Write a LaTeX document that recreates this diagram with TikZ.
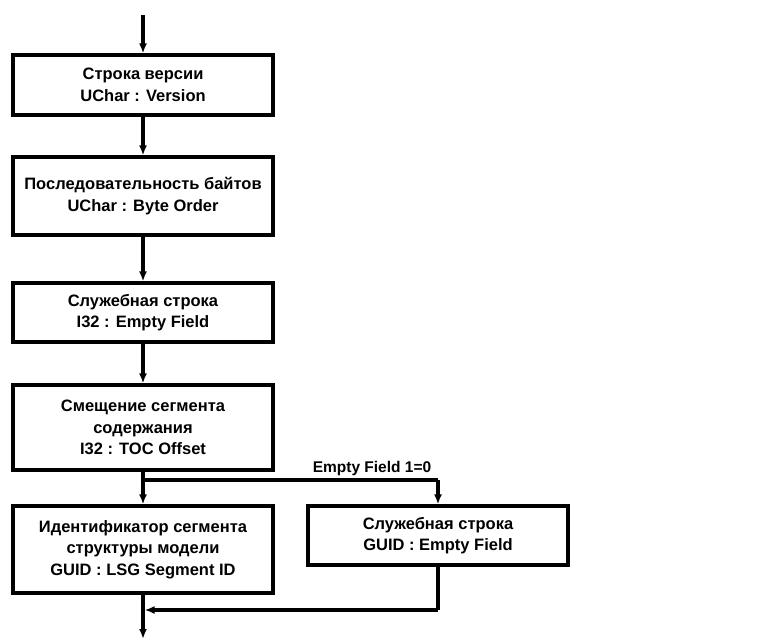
\documentclass[tikz,border=0pt]{standalone}
\usepackage{fontspec}
\setmainfont{Liberation Sans}
\usetikzlibrary{arrows.meta,positioning}
\begin{document}
\begin{tikzpicture}[x=1pt,y=-1pt,
  blk/.style={draw, line width=3.2pt, minimum width=260pt, align=center, inner sep=0pt,
    font=\fontsize{16.5}{21.5}\selectfont\bfseries},
  conn/.style={line width=3.2pt, -{Latex[length=10pt,width=8pt]}},
  plain/.style={line width=3.2pt}]
\useasboundingbox (0,0) rectangle (767,639);
\node[blk, minimum height=60pt] (b1) at (143,85) {Строка версии\\UChar : Version};
\node[blk, minimum height=78pt] (b2) at (143,196) {Последовательность байтов\\UChar : Byte Order};
\node[blk, minimum height=59pt] (b3) at (143,312.5) {Служебная строка\\I32 : Empty Field};
\node[blk, minimum height=85pt] (b4) at (143,427.5) {Смещение сегмента\\содержания\\I32 : TOC Offset};
\node[blk, minimum height=87pt] (b5) at (143,549.5) {Идентификатор сегмента\\структуры модели\\GUID : LSG Segment ID};
\node[blk, minimum height=59pt] (b6) at (438,535.5) {Служебная строка\\GUID : Empty Field};
\coordinate (top) at (143,15);
\coordinate (split) at (143,480);
\coordinate (splitR) at (438,480);
\coordinate (merge) at (143,610);
\coordinate (mergeR) at (438,610);
\coordinate (bot) at (143,639);
\node[font=\fontsize{15.5}{18}\selectfont\bfseries, anchor=base] (lbl) at (372,472) {Empty Field 1=0};
\draw[conn] (top) -- (b1.north);
\draw[conn] (b1.south) -- (b2.north);
\draw[conn] (b2.south) -- (b3.north);
\draw[conn] (b3.south) -- (b4.north);
\draw[conn] (b4.south) -- (b5.north);
\draw[plain] (split) -- (splitR);
\draw[conn] (splitR) -- (b6.north);
\draw[plain] (b6.south) -- (mergeR);
\draw[conn] (mergeR) -- ([xshift=1.6pt]merge);
\draw[conn] (b5.south) -- (bot);
\end{tikzpicture}
\end{document}
